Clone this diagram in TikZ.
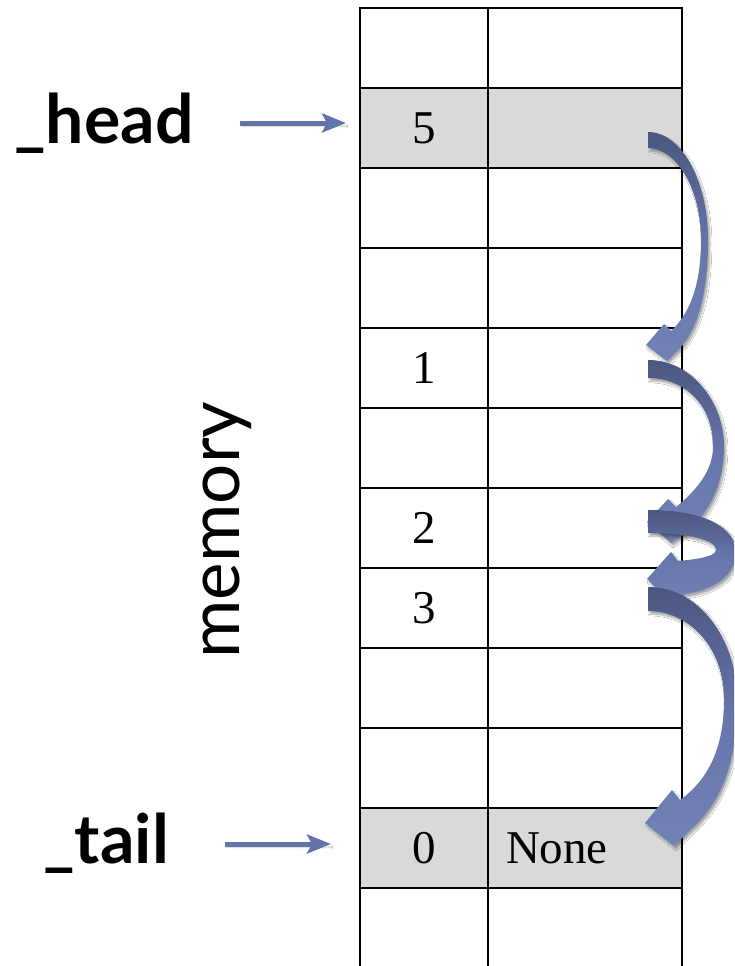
\documentclass[tikz,border=0pt]{standalone}
\usepackage{fontspec}
\setmainfont{Liberation Serif}
\newfontfamily\lato{Lato}
\usetikzlibrary{arrows.meta,shadows.blur}
\definecolor{cellgray}{HTML}{D9D9D9}
\definecolor{arrdark}{HTML}{4C5780}
\definecolor{arrmid}{HTML}{6675AA}
\definecolor{arrlight}{HTML}{7382B6}
\definecolor{ptrcol}{HTML}{6473AA}
\tikzset{
  cellbase/.style={draw=black, line width=2pt, inner sep=0pt, anchor=north west,
    minimum height=80pt, font=\fontsize{47}{50}\selectfont},
  cellL/.style={cellbase, minimum width=128pt},
  cellR/.style={cellbase, minimum width=194pt},
  filled/.style={fill=cellgray},
  curvarrow/.style={top color=arrdark, bottom color=arrlight, middle color=arrmid,
    blur shadow={shadow blur steps=6, shadow xshift=2pt, shadow yshift=-3pt, shadow opacity=35}},
  ptrarrow/.style={draw=ptrcol, line width=5pt,
    -{Stealth[length=24pt,width=19pt,inset=5pt]},
    blur shadow={shadow blur steps=4, shadow xshift=1pt, shadow yshift=-3pt, shadow opacity=25}},
  biglabel/.style={font=\lato\bfseries\fontsize{68}{70}\selectfont, inner sep=0pt, anchor=base west},
  memlabel/.style={font=\lato\fontsize{71}{73}\selectfont, inner sep=0pt, rotate=90}
}
\begin{document}
\begin{tikzpicture}[x=1pt,y=-1pt]
\useasboundingbox (0,0) rectangle (734,966);
\fill[white] (0,0) rectangle (734,966);
\clip (0,0) rectangle (734,966);

% table
\foreach \r in {0,...,11}{
  \pgfmathsetmacro{\yy}{7+80*\r}
  \ifnum\r=1 \else\ifnum\r=4 \else\ifnum\r=6 \else\ifnum\r=7 \else\ifnum\r=10 \else
    \node[cellL] (L\r) at (359,\yy) {};
    \node[cellR] (R\r) at (487,\yy) {};
  \fi\fi\fi\fi\fi
}
\node[cellL, filled] (L1) at (359,87) {5};
\node[cellR, filled] (R1) at (487,87) {};
\node[cellL] (L4) at (359,327) {1};
\node[cellR] (R4) at (487,327) {};
\node[cellL] (L6) at (359,487) {2};
\node[cellR] (R6) at (487,487) {};
\node[cellL] (L7) at (359,567) {3};
\node[cellR] (R7) at (487,567) {};
\node[cellL, filled] (L10) at (359,807) {0};
\node[cellR, filled, inner xsep=18pt, text width=158pt, align=left] (R10) at (487,807) {None};

% labels
\node[biglabel] (head) at (14,143) {\_head};
\node[biglabel] (tail) at (43,863) {\_tail};
\node[memlabel] (mem) at (227,530) {memory};

% pointer arrows
\coordinate (hs) at (240,123);
\coordinate (he) at (346,123);
\coordinate (ts) at (225,844);
\coordinate (te) at (331,844);
\draw[ptrarrow] (hs) -- (he);
\draw[ptrarrow] (ts) -- (te);

% curved arrows
\path[curvarrow] (648,132) .. controls (681,132) and (708,180) .. (708,240)
  .. controls (708,292) and (698,328) .. (680,348)
  -- (667,361) -- (646,345) -- (664,324) -- (671,331)
  .. controls (689,314) and (701,287) .. (701,240)
  .. controls (701,190) and (677,148) .. (648,148) -- cycle;

\path[curvarrow] (648,360) .. controls (690,360) and (724,400) .. (724,447)
  .. controls (724,487) and (706,516) .. (686,533)
  -- (671,543) -- (647,522) -- (668,499) -- (676,507)
  .. controls (697,490) and (713,470) .. (713,447)
  .. controls (713,405) and (685,378) .. (648,378) -- cycle;

\path[curvarrow] (648,510) .. controls (705,510) and (736,528) .. (736,552)
  .. controls (736,577) and (712,590) .. (685,594)
  -- (672,604) -- (647,579) -- (671,552) -- (678,561)
  .. controls (700,559) and (716,556) .. (716,550)
  .. controls (716,540) and (690,533) .. (648,533) -- cycle;

\path[curvarrow] (648,587) .. controls (700,587) and (737,640) .. (737,700)
  .. controls (737,770) and (718,806) .. (688,832)
  -- (674,846) -- (645,823) -- (672,790) -- (680,800)
  .. controls (708,780) and (724,748) .. (724,700)
  .. controls (724,648) and (690,611) .. (648,611) -- cycle;
\end{tikzpicture}
\end{document}
